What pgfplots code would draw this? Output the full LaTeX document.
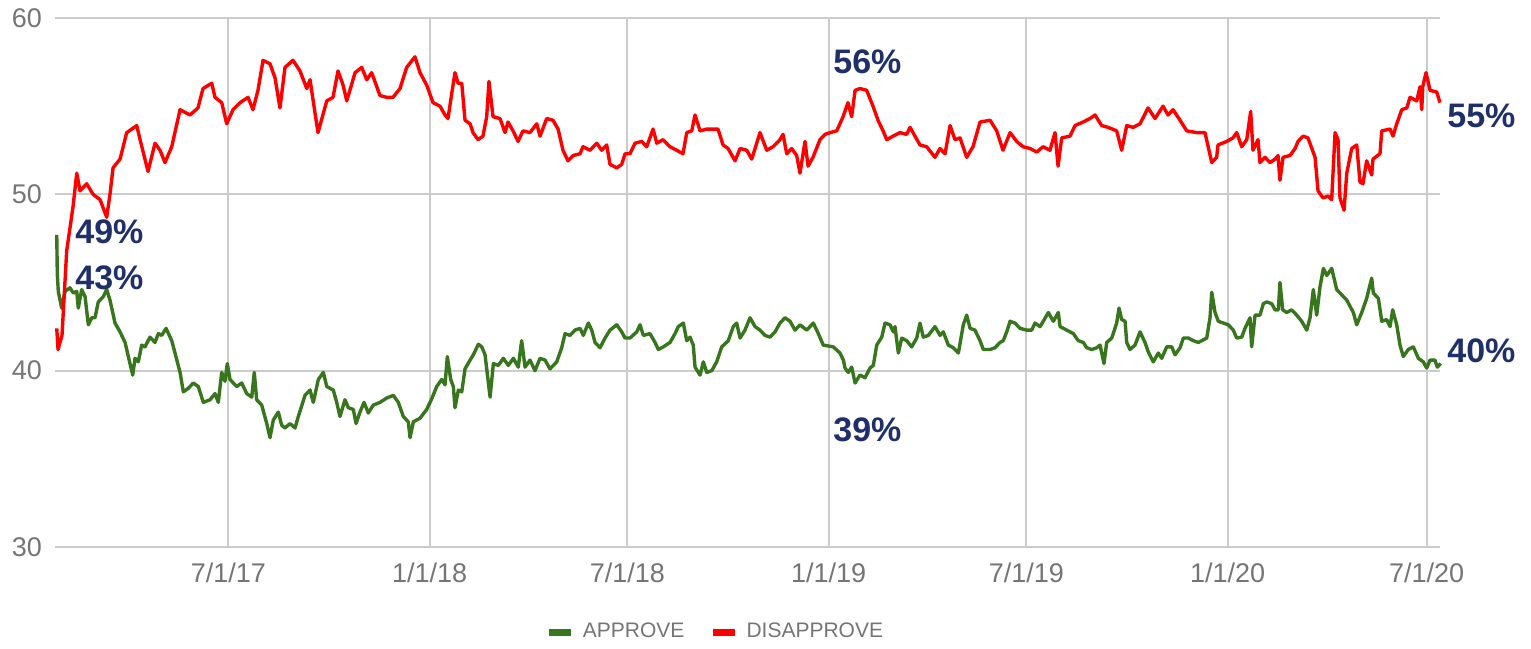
\documentclass[border=0pt]{standalone}
\usepackage{fontspec}
\setmainfont{Liberation Sans}
\usepackage{pgfplots}
\usepackage{pgfplotstable}
\pgfplotsset{compat=1.18}
\definecolor{appr}{RGB}{56,118,29}
\definecolor{disap}{RGB}{255,0,0}
\definecolor{navy}{RGB}{31,47,105}
\definecolor{tickc}{RGB}{117,117,117}
\definecolor{gridc}{RGB}{204,204,204}

% x = days since 1 Jan 2017, y = percent
\pgfplotstableread{
x y
23.9 47.7
24.4 45.5
25.3 44.5
28.4 43.55
31.5 44.5
36.0 44.7
39.1 44.4
42.2 44.5
43.6 43.55
46.7 44.6
49.8 44.2
52.8 42.6
55.9 43.0
58.9 43.0
61.9 43.9
66.5 44.2
69.6 44.6
72.6 44.0
77.2 42.7
81.8 42.2
86.4 41.6
90.9 40.4
93.4 39.75
95.5 40.7
98.5 40.5
101.6 41.45
104.6 41.35
109.2 41.9
113.8 41.6
116.8 42.1
119.9 42.0
123.9 42.4
129.1 41.7
132.1 41.0
136.7 39.9
139.7 38.8
144.3 39.0
148.8 39.3
153.4 39.1
158.0 38.2
164.1 38.35
168.7 38.7
171.7 38.2
174.8 39.9
177.8 39.4
179.9 40.4
182.4 39.5
188.5 39.1
193.1 39.3
197.7 38.7
202.3 38.5
204.6 39.9
206.8 38.35
211.4 38.05
216.0 37.0
219.0 36.2
222.0 37.2
226.6 37.65
229.7 36.9
232.7 36.75
237.3 37.0
241.9 36.75
244.9 37.4
251.0 38.6
255.6 38.9
258.6 38.2
263.2 39.5
267.8 39.9
270.9 39.1
276.9 38.9
280.0 38.2
283.0 37.4
287.6 38.35
290.6 37.9
295.2 37.8
297.7 37.0
301.3 37.65
305.0 38.2
308.9 37.6
313.5 38.05
319.6 38.2
325.8 38.45
331.8 38.6
336.4 38.2
340.9 37.4
345.5 37.1
347.1 36.2
350.1 37.1
356.2 37.3
362.3 37.8
366.9 38.4
371.5 39.1
376.1 39.5
379.1 39.2
381.2 40.8
384.3 39.5
386.7 39.1
388.2 37.9
391.3 38.9
394.4 38.8
397.4 40.1
402.0 40.6
405.0 40.9
409.6 41.5
412.7 41.35
415.7 40.9
420.3 38.5
423.3 40.4
427.9 40.3
432.4 40.7
437.0 40.3
441.6 40.7
446.1 40.2
449.2 41.7
452.3 40.2
456.8 40.6
461.4 40.0
466.0 40.7
470.6 40.6
475.1 40.1
481.3 40.5
485.8 41.3
488.9 42.1
493.4 42.0
498.0 42.3
502.6 42.4
505.6 42.0
510.2 42.7
513.3 42.3
516.3 41.6
520.9 41.3
525.5 41.85
530.0 42.3
536.2 42.6
540.7 42.2
543.8 41.85
548.3 41.85
554.5 42.2
557.5 42.6
560.5 42.0
566.6 42.1
571.2 41.6
574.2 41.2
578.8 41.35
584.9 41.6
589.5 42.1
592.5 42.5
597.1 42.7
600.2 41.7
603.2 41.9
606.2 41.45
607.8 40.2
612.4 39.75
615.4 40.5
618.5 39.9
623.1 40.0
627.6 40.5
632.2 41.35
638.2 41.7
642.8 42.5
645.9 42.7
649.0 41.85
653.5 42.3
658.1 43.0
662.7 42.5
667.2 42.3
671.8 42.0
676.4 41.9
681.0 42.2
685.5 42.7
690.1 43.0
694.7 42.8
699.3 42.3
703.8 42.6
710.0 42.3
716.0 42.7
720.6 42.1
725.1 41.45
734.3 41.35
740.4 41.0
743.5 40.6
745.0 40.15
748.0 39.9
751.1 40.2
754.2 39.3
758.7 39.75
763.3 39.6
767.9 40.15
770.9 40.3
774.0 41.45
778.6 41.9
781.6 42.7
786.2 42.6
789.2 42.2
790.7 42.5
793.8 41.0
796.9 41.85
801.4 41.7
806.0 41.35
810.6 41.85
813.6 42.7
816.6 41.9
821.2 42.0
827.3 42.5
831.9 42.0
834.9 42.2
839.5 41.45
844.1 41.3
848.7 41.0
853.2 42.6
856.3 43.15
859.4 42.4
863.9 42.3
868.5 41.7
871.5 41.2
877.7 41.2
882.2 41.3
886.8 41.6
889.8 41.7
892.9 42.2
896.0 42.8
900.5 42.7
905.1 42.4
911.2 42.3
915.8 42.3
918.8 42.7
923.4 42.5
926.4 42.8
931.0 43.3
935.6 42.8
940.1 43.3
941.7 42.5
947.8 42.3
953.9 42.1
958.4 41.7
963.0 41.6
966.1 41.3
970.7 41.2
975.2 41.3
978.3 41.45
981.9 40.4
984.4 41.6
989.0 41.85
993.5 42.7
995.7 43.55
998.1 42.9
1001.2 42.8
1002.7 41.6
1005.7 41.2
1010.3 41.45
1014.9 42.2
1019.4 41.6
1022.5 41.05
1027.0 40.5
1031.6 41.0
1034.7 40.7
1039.3 41.35
1043.9 41.35
1046.9 40.9
1051.5 41.3
1054.5 41.85
1059.1 41.85
1063.6 41.7
1068.2 41.6
1075.9 41.85
1078.9 43.0
1080.5 44.45
1083.5 43.3
1086.5 42.8
1091.1 42.7
1095.6 42.6
1100.2 42.3
1103.3 41.85
1107.9 41.9
1110.9 42.4
1115.5 43.0
1117.0 41.35
1120.1 43.15
1124.6 43.15
1127.7 43.8
1130.8 43.9
1135.3 43.8
1138.4 43.45
1141.4 43.45
1142.9 45.0
1145.4 43.45
1149.1 43.3
1153.6 43.45
1158.2 43.15
1162.8 42.8
1167.4 42.3
1170.4 43.0
1173.4 44.6
1176.5 43.15
1179.5 44.75
1182.6 45.8
1185.7 45.4
1190.2 45.8
1194.8 44.6
1199.4 44.3
1204.0 44.0
1210.0 43.3
1213.1 42.6
1217.7 43.3
1222.2 44.1
1226.8 45.25
1228.3 44.4
1232.9 44.1
1236.0 42.8
1240.5 42.9
1243.6 42.5
1246.0 43.45
1249.7 42.6
1252.7 41.45
1255.7 40.8
1260.3 41.2
1264.9 41.35
1269.5 40.7
1274.0 40.5
1277.1 40.15
1280.2 40.6
1284.7 40.6
1286.8 40.2
1289.9 40.4
}\approvetable

\pgfplotstableread{
x y
23.9 42.4
25.1 41.2
28.7 42.0
33.0 46.8
38.8 49.3
42.2 51.2
45.2 50.2
51.3 50.6
57.1 50.0
63.5 49.7
69.6 48.7
72.6 50.0
75.4 51.5
81.8 52.0
87.9 53.5
97.1 53.9
100.1 53.1
107.4 51.3
113.8 52.9
118.4 52.5
122.9 51.8
129.1 52.7
136.7 54.8
145.8 54.5
153.1 54.9
157.7 56.0
165.7 56.3
168.7 55.5
174.8 55.2
179.4 54.0
185.1 54.8
191.6 55.2
198.9 55.5
203.4 54.8
208.0 55.9
212.6 57.6
219.0 57.4
223.6 56.6
228.1 54.9
232.7 57.2
240.0 57.6
246.4 57.0
252.6 56.0
255.6 56.5
260.2 54.6
262.9 53.5
270.9 55.3
276.6 55.5
281.2 57.0
285.8 56.2
289.2 55.3
296.8 56.9
302.9 57.2
307.5 56.5
312.0 56.9
319.6 55.6
325.8 55.5
331.5 55.5
337.9 56.0
344.0 57.2
351.6 57.8
356.2 56.9
362.3 56.2
368.1 55.2
374.5 55.0
379.1 54.5
381.8 54.3
385.2 55.7
388.2 56.9
391.0 56.3
394.4 56.3
397.4 54.2
402.0 54.0
404.7 53.5
409.3 53.1
413.8 53.3
417.2 54.4
419.3 56.4
423.0 54.4
429.4 54.3
434.0 53.5
436.7 54.1
441.3 53.6
445.9 53.0
450.4 53.6
456.8 53.5
463.0 54.0
466.0 53.3
472.1 54.3
477.9 54.2
482.5 53.7
487.0 52.5
491.6 51.9
496.2 52.2
502.6 52.3
505.3 52.7
511.7 52.5
517.9 52.9
522.4 52.5
527.0 52.8
530.0 51.7
536.2 51.5
540.7 51.7
543.8 52.3
548.3 52.3
552.9 52.9
559.0 53.0
563.6 52.7
569.4 53.7
572.8 52.9
578.5 53.1
584.9 52.7
591.0 52.5
596.8 52.3
600.2 53.5
604.8 53.6
607.8 54.5
612.4 53.6
618.5 53.7
624.3 53.7
628.8 53.7
633.4 52.8
638.0 52.6
644.4 51.9
649.0 52.6
655.1 52.5
659.7 52.0
667.2 53.5
673.4 52.5
679.1 52.7
685.5 53.1
688.3 53.4
691.7 52.3
696.2 52.6
700.8 52.2
703.8 51.2
708.4 53.0
711.2 51.6
715.7 52.1
722.1 53.1
726.7 53.4
731.3 53.5
737.4 53.6
743.2 54.4
747.7 55.2
751.1 54.4
754.2 55.9
758.7 56.0
764.8 55.9
770.6 55.0
775.2 54.2
779.8 53.6
783.2 53.1
788.9 53.3
795.3 53.5
801.4 53.4
804.5 53.8
809.0 53.3
813.6 52.8
819.7 52.7
827.3 52.1
831.9 52.6
836.5 52.3
841.1 53.9
845.6 53.1
850.2 53.2
856.3 52.1
862.1 52.7
868.5 54.1
877.7 54.2
883.8 53.6
889.5 52.5
896.0 53.5
902.1 53.0
907.8 52.7
914.2 52.6
920.4 52.4
926.1 52.7
932.5 52.5
937.1 53.5
939.9 51.6
943.2 53.2
950.8 53.3
955.4 53.9
962.7 54.1
969.1 54.3
973.7 54.5
979.8 53.9
985.6 53.8
993.5 53.6
998.1 52.5
1002.7 53.9
1008.5 53.8
1014.9 54.0
1022.2 54.9
1028.6 54.3
1035.9 55.0
1040.5 54.5
1045.1 54.8
1051.5 54.2
1057.6 53.6
1066.7 53.5
1074.3 53.5
1080.5 51.8
1085.0 52.1
1086.2 52.8
1094.2 53.0
1099.9 53.2
1103.3 53.5
1107.9 52.7
1112.5 53.1
1116.1 54.7
1118.2 52.5
1122.8 53.1
1124.6 51.8
1129.2 52.1
1133.8 51.8
1138.4 52.0
1141.1 52.2
1142.9 50.8
1145.7 52.1
1152.1 52.2
1156.7 52.6
1159.4 53.0
1164.0 53.3
1168.5 53.2
1175.0 52.1
1177.7 50.2
1182.3 49.8
1186.9 49.9
1190.2 49.7
1193.3 53.5
1196.0 53.1
1197.8 49.8
1201.5 49.1
1204.0 51.2
1208.5 52.6
1213.1 52.8
1216.1 50.7
1218.8 50.6
1222.2 51.9
1226.8 51.1
1228.0 52.0
1234.4 52.3
1236.0 53.6
1243.6 53.7
1246.3 53.3
1249.7 54.0
1254.3 54.8
1258.9 54.9
1261.9 55.5
1268.0 55.3
1271.0 56.1
1272.6 54.8
1273.5 56.1
1276.5 56.9
1280.2 55.9
1286.3 55.8
1289.3 55.2
}\disapprovetable

\begin{document}
\begin{tikzpicture}
\begin{axis}[
  at={(0pt,0pt)}, anchor=south west,
  scale only axis, width=692.5pt, height=264.5pt,
  xmin=22.3, xmax=1289.3, ymin=30, ymax=60,
  xtick={181,365,546,730,911,1095,1277},
  xticklabels={7/1/17,1/1/18,7/1/18,1/1/19,7/1/19,1/1/20,7/1/20},
  ytick={30,40,50,60},
  grid=major,
  major grid style={draw=gridc, line width=1pt},
  axis line style={draw=none},
  major tick length=0pt,
  tick label style={font=\fontsize{13.5}{16}\selectfont, text=tickc},
  /pgf/number format/assume math mode=true,
  xticklabel style={yshift=-4.5pt},
  yticklabel style={xshift=-3pt},
  clip=false,
  legend columns=2,
  legend style={at={(0.4787,-0.1607)}, anchor=center, draw=none, fill=none,
    font=\fontsize{10.5}{12}\selectfont, text=tickc,
    /tikz/every odd column/.append style={column sep=4pt},
    /tikz/every even column/.append style={column sep=12pt}},
  legend image code/.code={\fill[#1, draw=none] (0pt,-1.75pt) rectangle (11pt,1.75pt);},
]
\addplot[color=appr, line width=1.7pt, line join=round] table[x=x, y=y] {\approvetable};
\addlegendentry{APPROVE}
\addplot[color=disap, line width=1.7pt, line join=round] table[x=x, y=y] {\disapprovetable};
\addlegendentry{DISAPPROVE}

\node[anchor=west, inner sep=0pt, text=navy, font=\bfseries\fontsize{17}{20}\selectfont] at (axis cs:40.6,47.86) {49\%};
\node[anchor=west, inner sep=0pt, text=navy, font=\bfseries\fontsize{17}{20}\selectfont] at (axis cs:40.6,45.25) {43\%};
\node[anchor=west, inner sep=0pt, text=navy, font=\bfseries\fontsize{17}{20}\selectfont] at (axis cs:734,57.5) {56\%};
\node[anchor=west, inner sep=0pt, text=navy, font=\bfseries\fontsize{17}{20}\selectfont] at (axis cs:734,36.63) {39\%};
\node[anchor=west, inner sep=0pt, text=navy, font=\bfseries\fontsize{17}{20}\selectfont] at (axis cs:1295.7,54.44) {55\%};
\node[anchor=west, inner sep=0pt, text=navy, font=\bfseries\fontsize{17}{20}\selectfont] at (axis cs:1295.7,41.11) {40\%};
\end{axis}
\path[use as bounding box] (-27.5pt,-48.5pt) rectangle (738pt,273.5pt);
\end{tikzpicture}
\end{document}
